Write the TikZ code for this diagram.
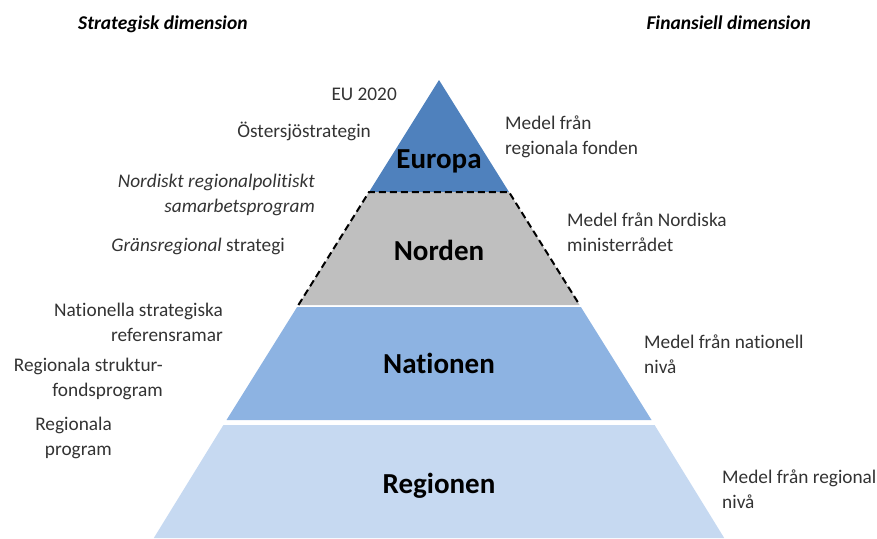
\documentclass[tikz,border=0pt]{standalone}
\usepackage{fontspec}
\setmainfont{Carlito}[Ligatures=NoCommon]
\definecolor{europa}{HTML}{4F81BD}
\definecolor{norden}{HTML}{BFBFBF}
\definecolor{nation}{HTML}{8DB3E2}
\definecolor{region}{HTML}{C6D9F1}
\tikzset{
  body/.style={inner sep=0pt, font=\fontsize{19.3}{25}\selectfont, text=black!80},
  lbl/.style={body, anchor=east, align=right},
  rbl/.style={body, anchor=west, align=left},
  band/.style={inner sep=0pt, anchor=base, font=\fontsize{29}{30}\selectfont\bfseries, text=black},
  head/.style={inner sep=0pt, anchor=base west, font=\fontsize{19.5}{22}\selectfont\bfseries\itshape, text=black},
  dashedge/.style={line width=2pt, dash pattern=on 7pt off 4pt, line cap=butt}
}
\begin{document}
\begin{tikzpicture}[x=1pt,y=-1pt]
\useasboundingbox (0,0) rectangle (877,538);
% pyramid geometry: apex (439,80), half width 0.625*(y-80)
\coordinate (apex) at (439,80);
\coordinate (eL) at (369,192); \coordinate (eR) at (509,192);
\coordinate (nbL) at (298.4,305); \coordinate (nbR) at (579.6,305);
\coordinate (naL) at (297.1,307); \coordinate (naR) at (580.9,307);
\coordinate (nabL) at (226.5,420); \coordinate (nabR) at (651.5,420);
\coordinate (rtL) at (223.4,425); \coordinate (rtR) at (654.6,425);
\coordinate (rbL) at (153.8,538); \coordinate (rbR) at (724.2,538);
\fill[europa] (apex) -- (eR) -- (eL) -- cycle;
\fill[norden] (eL) -- (eR) -- (nbR) -- (nbL) -- cycle;
\draw[dashedge] (nbL) -- (eL) -- (eR) -- (nbR);
\fill[nation] (naL) -- (naR) -- (nabR) -- (nabL) -- cycle;
\fill[region] (rtL) -- (rtR) -- (rbR) -- (rbL) -- cycle;
% band labels
\node[band] (europa) at (439,168) {Europa};
\node[band] (norden) at (439,260) {Norden};
\node[band] (nationen) at (439,373) {Nationen};
\node[band] (regionen) at (439,493) {Regionen};
% headers
\node[head] (hs) at (78,29) {Strategisk dimension};
\node[head, anchor=base east] (hf) at (811,29) {Finansiell dimension};
% left labels
\node[lbl] (eu) at (397,94) {EU 2020};
\node[lbl] (ost) at (371,131) {Östersjöstrategin};
\node[lbl, font=\fontsize{19.3}{25}\selectfont\itshape] (nrp) at (315,195) {Nordiskt regionalpolitiskt\\samarbetsprogram};
\node[lbl] (grs) at (285,246) {\textit{Gränsregional} strategi};
\node[lbl] (nsr) at (223,322) {Nationella strategiska\\referensramar};
\node[lbl] (rsf) at (163,379) {Regionala struktur-\\fondsprogram};
\node[lbl] (rp) at (112,438) {Regionala\\program};
% right labels
\node[rbl] (mrf) at (505,137) {Medel från\\regionala fonden};
\node[rbl] (mnm) at (567,232) {Medel från Nordiska\\ministerrådet};
\node[rbl] (mnn) at (644,354) {Medel från nationell\\nivå};
\node[rbl] (mrn) at (722,489) {Medel från regional\\nivå};
\end{tikzpicture}
\end{document}
